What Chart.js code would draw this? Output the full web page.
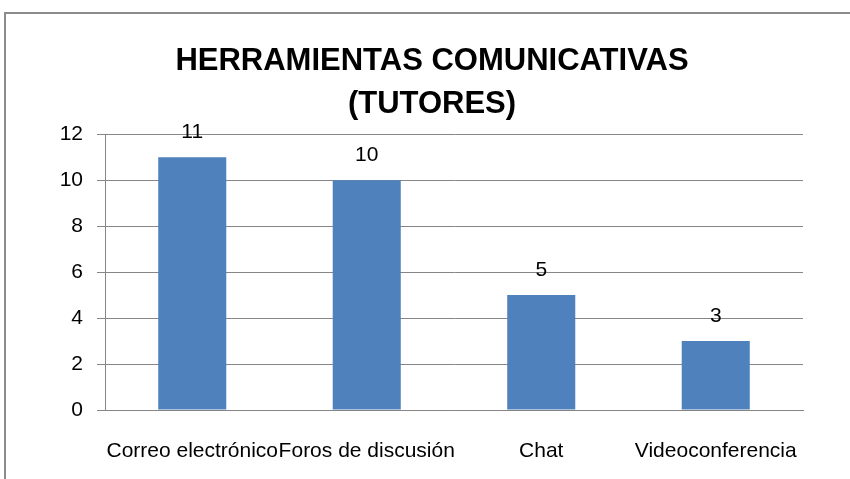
<!DOCTYPE html>
<html>
<head>
  <meta charset="utf-8">
  <title>Herramientas comunicativas (tutores)</title>
  <script src="https://cdn.jsdelivr.net/npm/chart.js"></script>
  <style>
    html, body { margin: 0; padding: 0; background: #fff; }
    #wrap { position: relative; width: 850px; height: 479px; overflow: hidden; }
    #frame { position: absolute; left: 4px; top: 12px; width: 900px; height: 520px; border: 2px solid #8c8c8c; box-sizing: border-box; }
    #wrap canvas { position: absolute; left: 0; top: 0; }
  </style>
</head>
<body>
  <div id="wrap">
    <div id="frame"></div>
    <canvas id="chart" width="850" height="479"></canvas>
  </div>

  <script>
    var categorias = ["Correo electrónico", "Foros de discusión", "Chat", "Videoconferencia"];
    var valores = [11, 10, 5, 3];
    var titulo = ["HERRAMIENTAS COMUNICATIVAS", "(TUTORES)"];
    var fuente = '"Liberation Sans", Arial, sans-serif';

    // etiquetas de valor encima de cada barra
    var etiquetasValor = {
      id: "etiquetasValor",
      afterDatasetsDraw: function (chart) {
        var ctx = chart.ctx;
        var meta = chart.getDatasetMeta(0);
        ctx.save();
        ctx.font = "21px " + fuente;
        ctx.fillStyle = "#000";
        ctx.textAlign = "center";
        ctx.textBaseline = "alphabetic";
        meta.data.forEach(function (bar, i) {
          ctx.fillText(String(valores[i]), bar.x, bar.y - 19);
        });
        ctx.restore();
      }
    };

    var ctx = document.getElementById("chart").getContext("2d");
    new Chart(ctx, {
      type: "bar",
      data: {
        labels: categorias,
        datasets: [{
          data: valores,
          backgroundColor: "#4F81BD",
          borderWidth: 0,
          categoryPercentage: 1,
          barPercentage: 0.39
        }]
      },
      options: {
        responsive: false,
        animation: false,
        layout: { padding: { left: 61, right: 47, top: 0, bottom: 0 } },
        scales: {
          x: {
            grid: { display: false, drawTicks: false },
            border: { display: true, color: "#868686", width: 1 },
            ticks: {
              color: "#000",
              font: { family: fuente, size: 21 },
              padding: 29,
              maxRotation: 0,
              autoSkip: false
            },
            afterFit: function (axis) { axis.height = 69; }
          },
          y: {
            min: 0,
            max: 12,
            grid: { color: "#868686", tickLength: 8, drawTicks: true },
            border: { display: true, color: "#868686", width: 1 },
            ticks: {
              stepSize: 2,
              color: "#000",
              font: { family: fuente, size: 21 },
              padding: 14
            },
            afterFit: function (axis) { axis.width = 44; }
          }
        },
        plugins: {
          legend: { display: false },
          tooltip: { enabled: false },
          title: {
            display: true,
            text: titulo,
            color: "#000",
            font: { family: fuente, size: 31, weight: "bold", lineHeight: 1.39 },
            padding: { top: 40, bottom: 8 }
          }
        }
      },
      plugins: [etiquetasValor]
    });
  </script>
</body>
</html>
